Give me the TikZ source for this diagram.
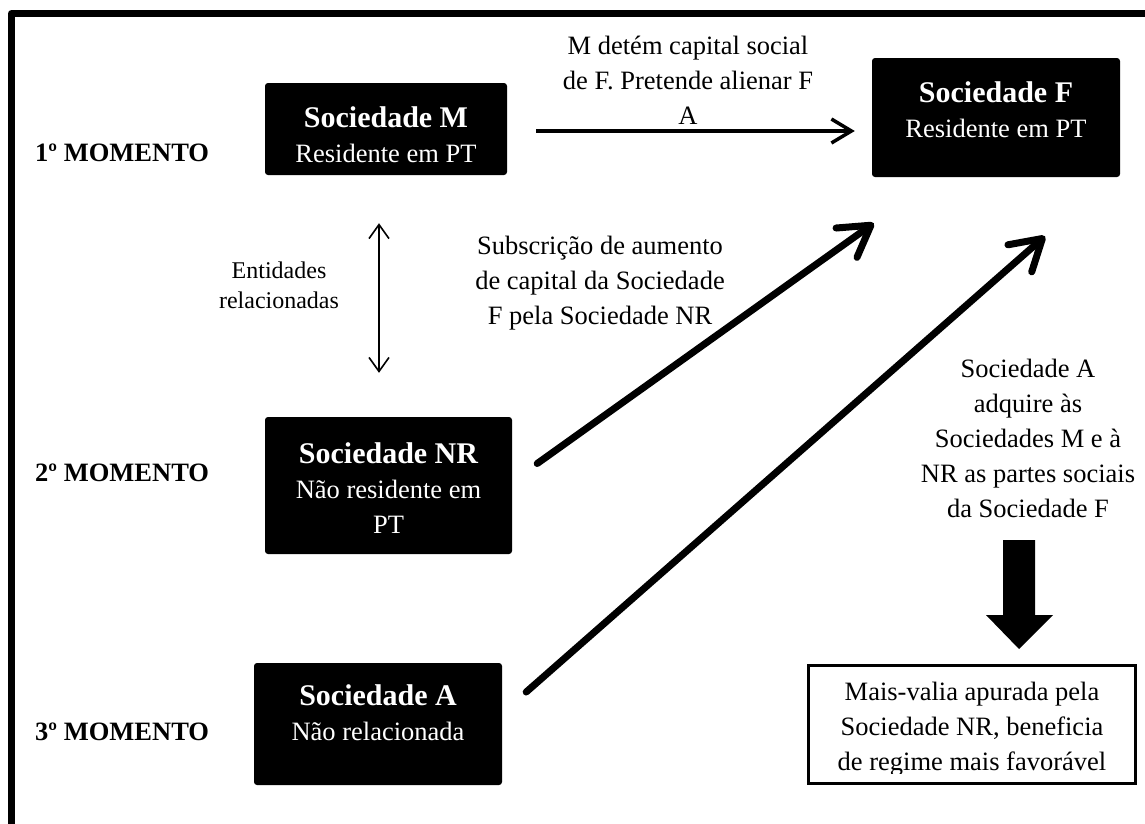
\documentclass[tikz,border=0pt]{standalone}
\usepackage{fontspec}
\setmainfont{Liberation Serif}
\usetikzlibrary{arrows.meta}
\begin{document}
\begin{tikzpicture}[x=1pt,y=-1pt,
  blackbox/.style={fill=black, rounded corners=3pt, inner sep=0pt},
  resultbox/.style={draw=black, fill=white, line width=3pt, inner sep=0pt},
  boxtext/.style={text=white, align=center, inner sep=0pt, font=\fontsize{26.5}{35}\selectfont},
  plaintext/.style={align=center, inner sep=0pt, font=\fontsize{26.5}{35}\selectfont},
  smalltext/.style={align=center, inner sep=0pt, font=\fontsize{24}{30}\selectfont},
  phase/.style={anchor=west, inner sep=0pt, font=\fontsize{26.5}{32}\selectfont\bfseries},
  thinarrow/.style={line width=3.5pt, -{Straight Barb[length=20pt,width=24pt]}},
  linkarrow/.style={line width=1.6pt, {Straight Barb[length=14pt,width=20pt]}-{Straight Barb[length=14pt,width=20pt]}},
  thickarrow/.style={line width=7pt, line cap=round, -{Straight Barb[length=30pt,width=36pt,round]}},
]
\useasboundingbox (0,0) rectangle (1145,823);

% outer frame (runs past the right and bottom edges)
\draw[line width=7pt, line join=round] (11.5,840) -- (11.5,13.5) -- (1170,13.5);

% phase labels
\node[phase] (p1) at (35,153) {1º MOMENTO};
\node[phase] (p2) at (35,473) {2º MOMENTO};
\node[phase] (p3) at (35,732) {3º MOMENTO};

% company boxes
\node[blackbox, minimum width=242pt, minimum height=92pt] (M) at (386,129) {};
\node[boxtext] (Mt) at (386,135) {{\fontsize{30}{35}\selectfont\bfseries Sociedade M}\\Residente em PT};

\node[blackbox, minimum width=248pt, minimum height=119pt] (F) at (996,117.5) {};
\node[boxtext] (Ft) at (996,110) {{\fontsize{30}{35}\selectfont\bfseries Sociedade F}\\Residente em PT};

\node[blackbox, minimum width=247pt, minimum height=137pt] (NR) at (388.5,485.5) {};
\node[boxtext] (NRt) at (388.5,488) {{\fontsize{30}{35}\selectfont\bfseries Sociedade NR}\\Não residente em\\PT};

\node[blackbox, minimum width=248pt, minimum height=122pt] (A) at (378,724) {};
\node[boxtext] (At) at (378,713) {{\fontsize{30}{35}\selectfont\bfseries Sociedade A}\\Não relacionada};

% explanatory texts
\node[plaintext] (tMF) at (688,80) {M detém capital social\\de F. Pretende alienar F\\A};
\node[plaintext] (tSub) at (600,283) {Subscrição de aumento\\de capital da Sociedade\\F pela Sociedade NR};
\node[smalltext] (tRel) at (279,285) {Entidades\\relacionadas};
\node[plaintext] (tAcq) at (1028,438) {Sociedade A\\adquire às\\Sociedades M e à\\NR as partes sociais\\da Sociedade F};

% result box, its last line cut by the box margin
\node[resultbox, minimum width=327pt, minimum height=118pt] (R) at (972,724.5) {};
\begin{scope}
  \clip ([shift={(3,3)}]R.north west) rectangle ([shift={(-3,-12)}]R.south east);
  \node[plaintext] (Rt) at (972,729) {Mais-valia apurada pela\\Sociedade NR, beneficia\\de regime mais favorável};
\end{scope}

% connectors
\draw[thinarrow] ([shift={(29,2)}]M.east) -- ([shift={(-17,13.5)}]F.west);
\draw[linkarrow] ([shift={(-7,48)}]M.south) -- ([shift={(-9.5,-44)}]NR.north);
\draw[thickarrow] ([shift={(25,-22)}]NR.east) -- ([shift={(2,46)}]F.south west);
\draw[thickarrow] ([shift={(24,-32)}]A.east) -- ([shift={(49,59)}]F.south);

% block arrow from the acquisition note down to the result
\coordinate (dn) at (1019,540);
\fill (dn) ++(-16,0) -- ++(32,0) -- ++(0,75) -- ++(18,0) -- ++(-34,34) -- ++(-33,-34) -- ++(17,0) -- cycle;
\end{tikzpicture}
\end{document}
